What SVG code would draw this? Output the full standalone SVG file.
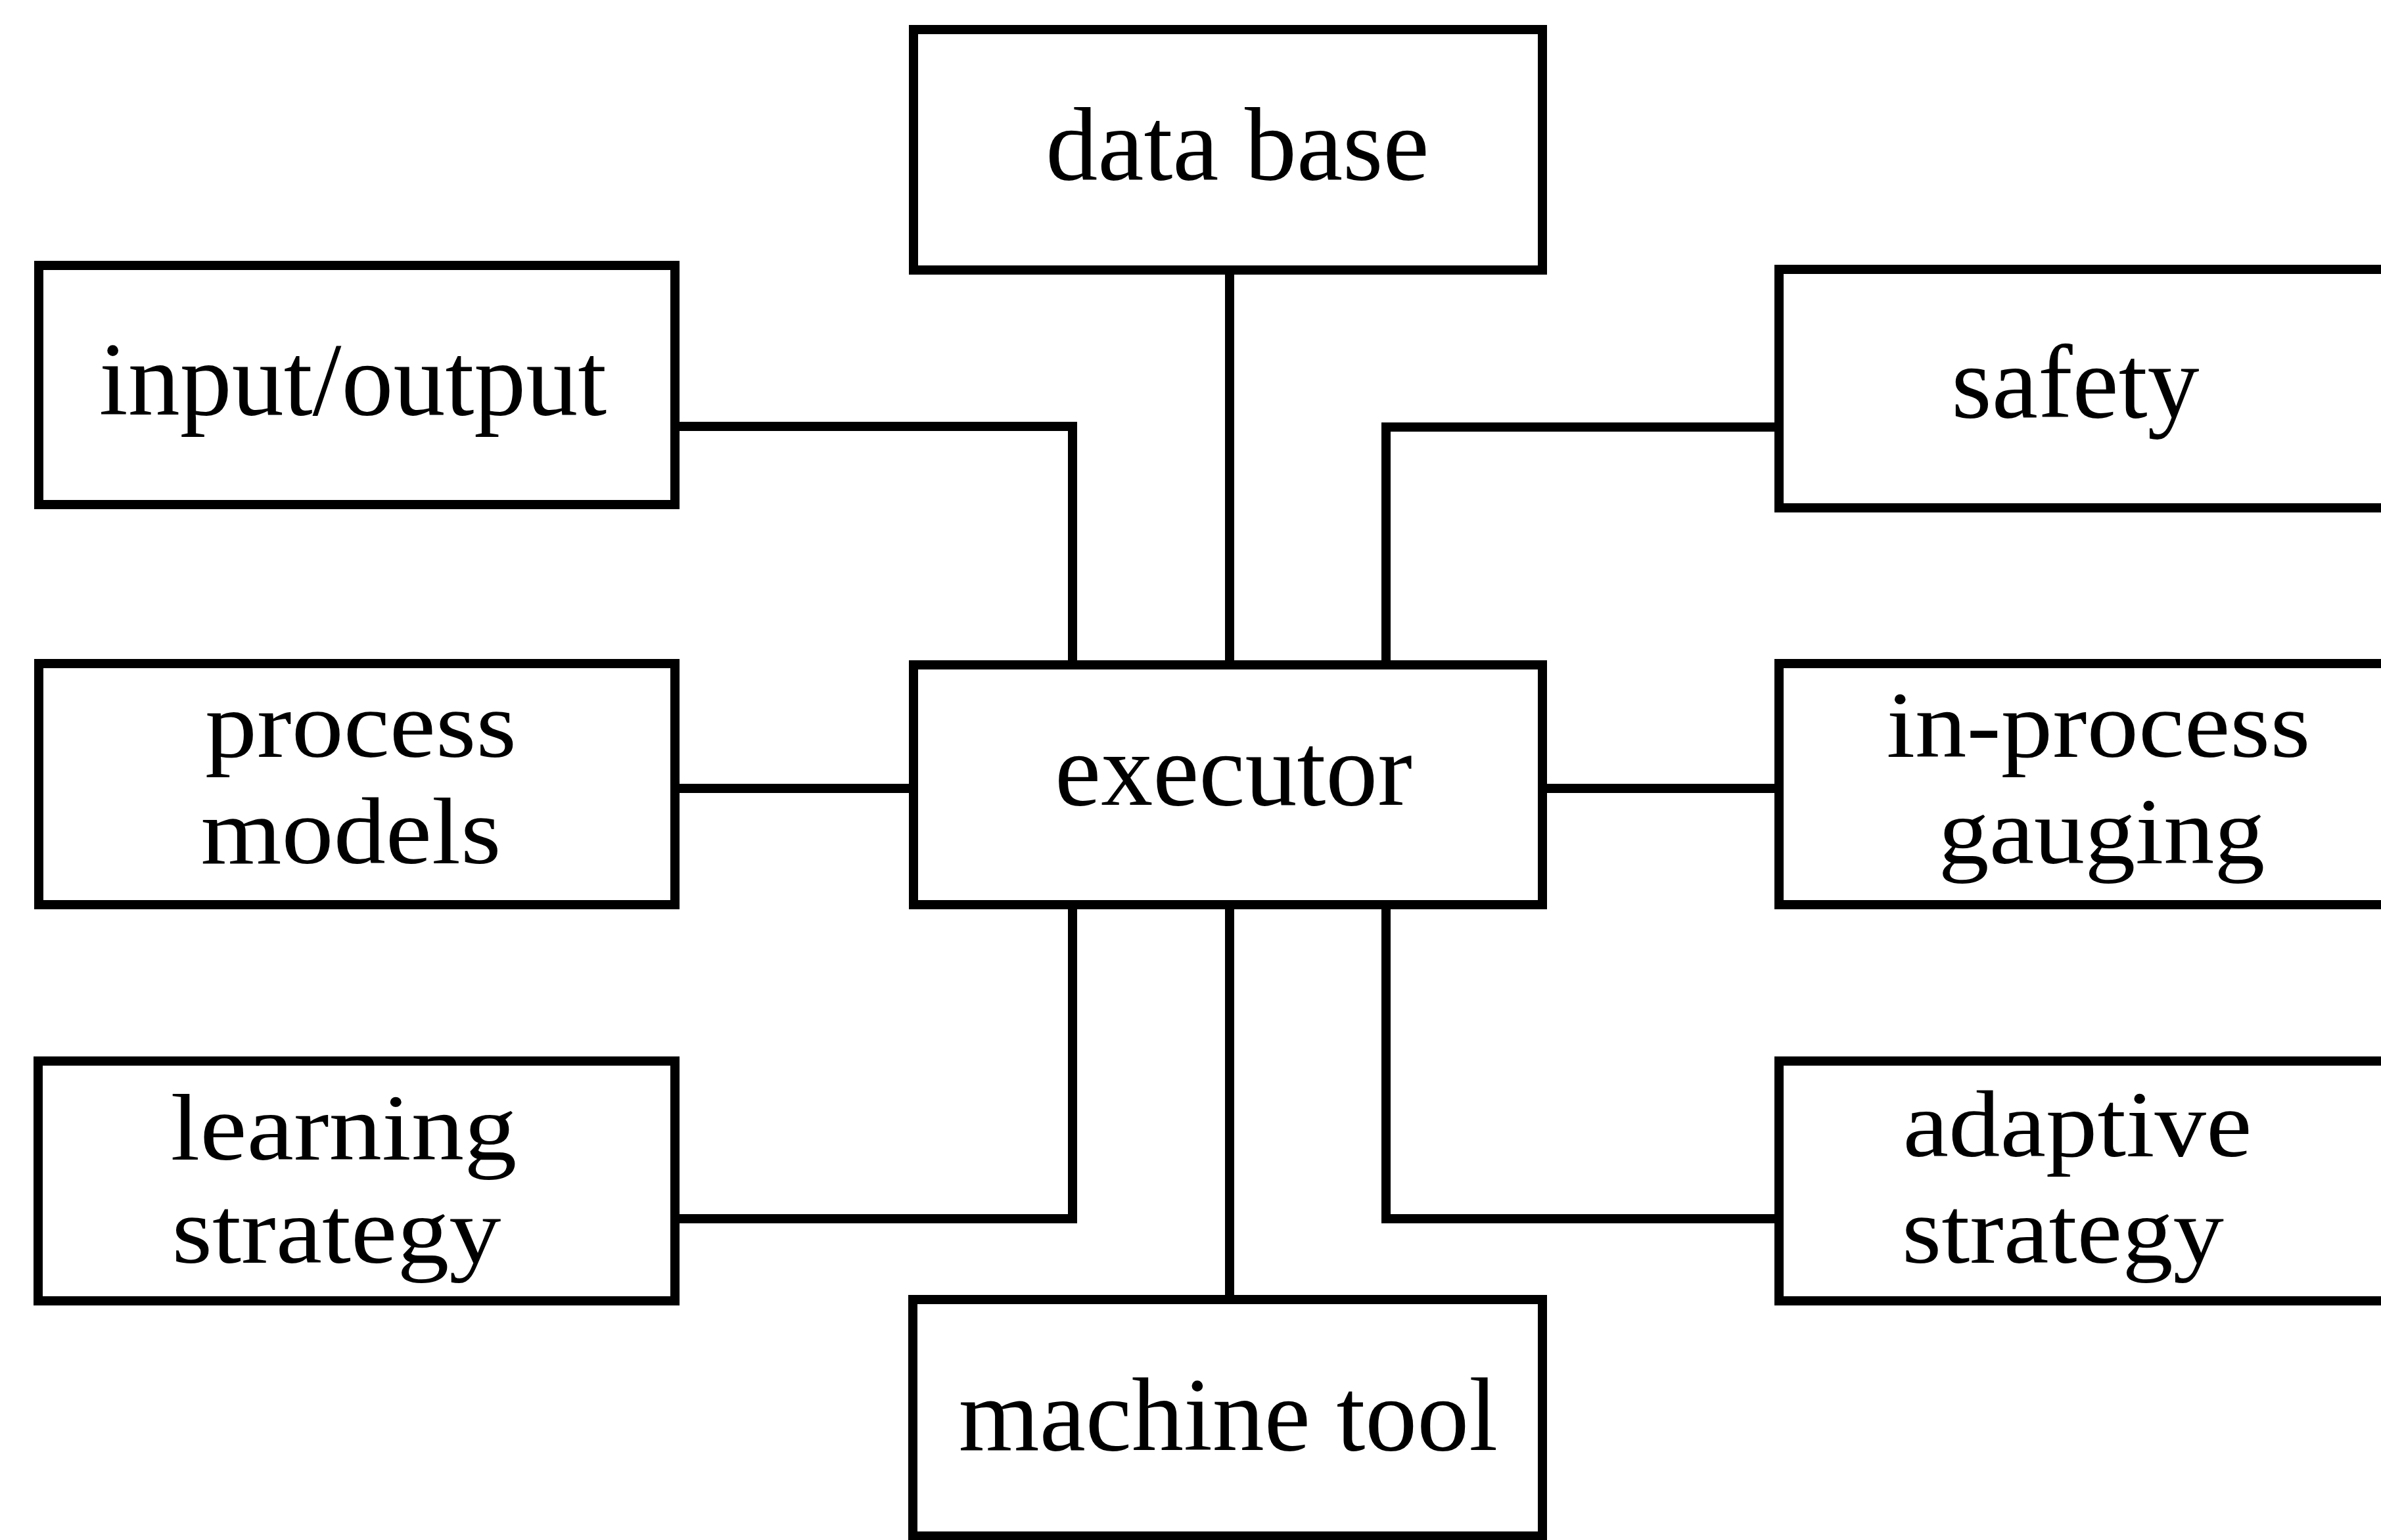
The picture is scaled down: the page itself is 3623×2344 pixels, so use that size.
<svg xmlns="http://www.w3.org/2000/svg" width="3623" height="2344" viewBox="0 0 3623 2344">
<style>
.box{fill:#fff;stroke:#000;stroke-width:14}
.con{fill:none;stroke:#000;stroke-width:14;stroke-linecap:square}
text{font-family:"Liberation Serif","Times New Roman",serif;font-size:158px;fill:#000;text-anchor:middle}
text.two{font-size:145px}
</style>
<rect width="3623" height="2344" fill="#fff"/>
<g id="connectors">
<polyline class="con" points="1027,649 1632,649 1632,1012"/>
<line class="con" x1="1871" y1="411" x2="1871" y2="1012"/>
<polyline class="con" points="2109,1012 2109,650 2701,650"/>
<line class="con" x1="1027" y1="1200" x2="1390" y2="1200"/>
<line class="con" x1="2347" y1="1200" x2="2701" y2="1200"/>
<polyline class="con" points="1632,1377 1632,1855 1027,1855"/>
<line class="con" x1="1871" y1="1377" x2="1871" y2="1973"/>
<polyline class="con" points="2109,1377 2109,1855 2701,1855"/>
</g>
<g id="data-base"><rect class="box" x="1390" y="45" width="957" height="366"/><text x="1883" y="273">data base</text></g>
<g id="input-output"><rect class="box" x="59" y="404" width="968" height="364"/><text x="537" y="631">input/output</text></g>
<g id="safety"><rect class="box" x="2707" y="410" width="940" height="363"/><text x="3158" y="635">safety</text></g>
<g id="process-models"><rect class="box" x="59" y="1010" width="968" height="367"/><text class="two" x="549" y="1152" textLength="474" lengthAdjust="spacingAndGlyphs">process</text><text class="two" x="534" y="1314" textLength="457" lengthAdjust="spacingAndGlyphs">models</text></g>
<g id="executor"><rect class="box" x="1390" y="1012" width="957" height="365"/><text x="1877" y="1225">executor</text></g>
<g id="in-process-gauging"><rect class="box" x="2707" y="1010" width="940" height="367"/><text class="two" x="3193" y="1152" textLength="645" lengthAdjust="spacingAndGlyphs">in-process</text><text class="two" x="3198" y="1314" textLength="497" lengthAdjust="spacingAndGlyphs">gauging</text></g>
<g id="learning-strategy"><rect class="box" x="58" y="1615" width="969" height="365"/><text class="two" x="523" y="1765" textLength="527" lengthAdjust="spacingAndGlyphs">learning</text><text class="two" x="512" y="1922" textLength="501" lengthAdjust="spacingAndGlyphs">strategy</text></g>
<g id="adaptive-strategy"><rect class="box" x="2707" y="1615" width="940" height="365"/><text class="two" x="3161" y="1760" textLength="531" lengthAdjust="spacingAndGlyphs">adaptive</text><text class="two" x="3139" y="1922" textLength="490" lengthAdjust="spacingAndGlyphs">strategy</text></g>
<g id="machine-tool"><rect class="box" x="1389" y="1978" width="958" height="360"/><text x="1869" y="2207">machine tool</text></g>
</svg>
